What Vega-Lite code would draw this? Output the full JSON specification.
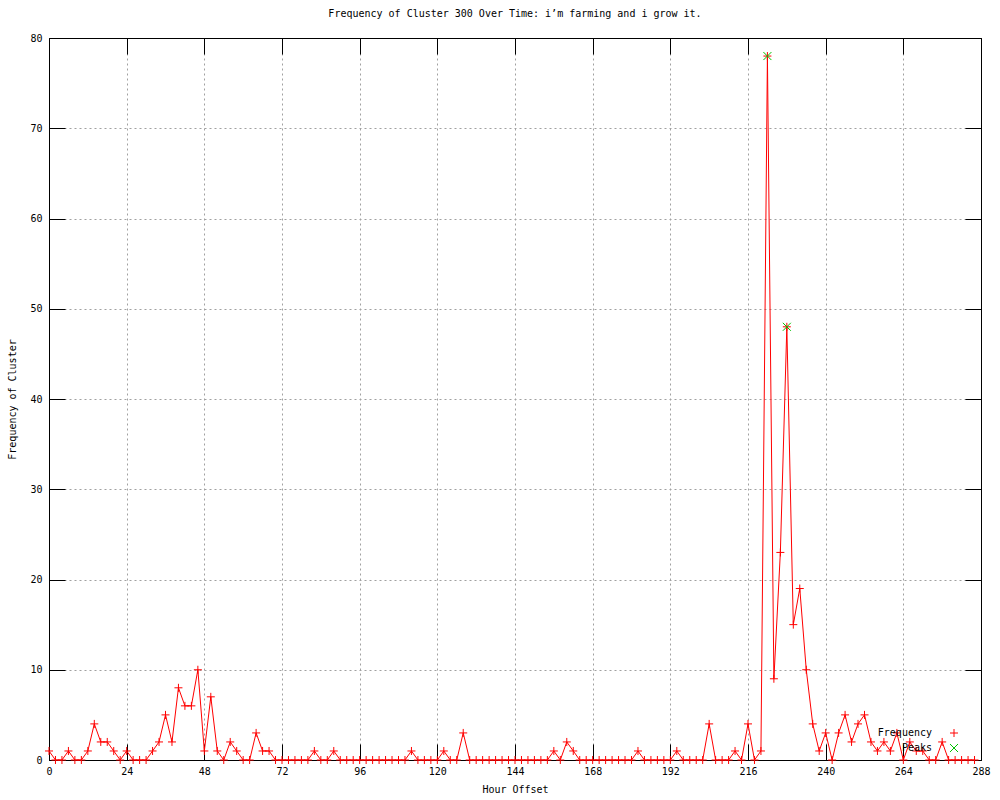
{
  "$schema": "https://vega.github.io/schema/vega-lite/v6.json",
  "width": 932,
  "height": 722,
  "autosize": {"type": "none"},
  "padding": {"left": 49, "top": 38, "right": 19, "bottom": 40},
  "background": "white",
  "config": {
    "font": "DejaVu Sans Mono",
    "view": {"stroke": "black", "strokeWidth": 1},
    "axis": {
      "labelFont": "DejaVu Sans Mono",
      "titleFont": "DejaVu Sans Mono",
      "labelFontSize": 10,
      "titleFontSize": 10,
      "titleFontWeight": "normal",
      "labelColor": "black",
      "titleColor": "black",
      "domainColor": "black",
      "tickColor": "black",
      "gridColor": "#a0a0a0",
      "gridDash": [2, 3],
      "gridOpacity": 1
    },
    "legend": {"labelFont": "DejaVu Sans Mono", "labelFontSize": 10, "labelColor": "black"}
  },
  "title": {
    "text": "Frequency of Cluster 300 Over Time: i’m farming and i grow it.",
    "font": "DejaVu Sans Mono",
    "fontSize": 10,
    "fontWeight": "normal",
    "color": "black",
    "anchor": "middle",
    "offset": 14
  },
  "datasets": {
    "freq": [
      {"hour": 0, "value": 1}, {"hour": 2, "value": 0}, {"hour": 4, "value": 0}, {"hour": 6, "value": 1},
      {"hour": 8, "value": 0}, {"hour": 10, "value": 0}, {"hour": 12, "value": 1}, {"hour": 14, "value": 4},
      {"hour": 16, "value": 2}, {"hour": 18, "value": 2}, {"hour": 20, "value": 1}, {"hour": 22, "value": 0},
      {"hour": 24, "value": 1}, {"hour": 26, "value": 0}, {"hour": 28, "value": 0}, {"hour": 30, "value": 0},
      {"hour": 32, "value": 1}, {"hour": 34, "value": 2}, {"hour": 36, "value": 5}, {"hour": 38, "value": 2},
      {"hour": 40, "value": 8}, {"hour": 42, "value": 6}, {"hour": 44, "value": 6}, {"hour": 46, "value": 10},
      {"hour": 48, "value": 1}, {"hour": 50, "value": 7}, {"hour": 52, "value": 1}, {"hour": 54, "value": 0},
      {"hour": 56, "value": 2}, {"hour": 58, "value": 1}, {"hour": 60, "value": 0}, {"hour": 62, "value": 0},
      {"hour": 64, "value": 3}, {"hour": 66, "value": 1}, {"hour": 68, "value": 1}, {"hour": 70, "value": 0},
      {"hour": 72, "value": 0}, {"hour": 74, "value": 0}, {"hour": 76, "value": 0}, {"hour": 78, "value": 0},
      {"hour": 80, "value": 0}, {"hour": 82, "value": 1}, {"hour": 84, "value": 0}, {"hour": 86, "value": 0},
      {"hour": 88, "value": 1}, {"hour": 90, "value": 0}, {"hour": 92, "value": 0}, {"hour": 94, "value": 0},
      {"hour": 96, "value": 0}, {"hour": 98, "value": 0}, {"hour": 100, "value": 0}, {"hour": 102, "value": 0},
      {"hour": 104, "value": 0}, {"hour": 106, "value": 0}, {"hour": 108, "value": 0}, {"hour": 110, "value": 0},
      {"hour": 112, "value": 1}, {"hour": 114, "value": 0}, {"hour": 116, "value": 0}, {"hour": 118, "value": 0},
      {"hour": 120, "value": 0}, {"hour": 122, "value": 1}, {"hour": 124, "value": 0}, {"hour": 126, "value": 0},
      {"hour": 128, "value": 3}, {"hour": 130, "value": 0}, {"hour": 132, "value": 0}, {"hour": 134, "value": 0},
      {"hour": 136, "value": 0}, {"hour": 138, "value": 0}, {"hour": 140, "value": 0}, {"hour": 142, "value": 0},
      {"hour": 144, "value": 0}, {"hour": 146, "value": 0}, {"hour": 148, "value": 0}, {"hour": 150, "value": 0},
      {"hour": 152, "value": 0}, {"hour": 154, "value": 0}, {"hour": 156, "value": 1}, {"hour": 158, "value": 0},
      {"hour": 160, "value": 2}, {"hour": 162, "value": 1}, {"hour": 164, "value": 0}, {"hour": 166, "value": 0},
      {"hour": 168, "value": 0}, {"hour": 170, "value": 0}, {"hour": 172, "value": 0}, {"hour": 174, "value": 0},
      {"hour": 176, "value": 0}, {"hour": 178, "value": 0}, {"hour": 180, "value": 0}, {"hour": 182, "value": 1},
      {"hour": 184, "value": 0}, {"hour": 186, "value": 0}, {"hour": 188, "value": 0}, {"hour": 190, "value": 0},
      {"hour": 192, "value": 0}, {"hour": 194, "value": 1}, {"hour": 196, "value": 0}, {"hour": 198, "value": 0},
      {"hour": 200, "value": 0}, {"hour": 202, "value": 0}, {"hour": 204, "value": 4}, {"hour": 206, "value": 0},
      {"hour": 208, "value": 0}, {"hour": 210, "value": 0}, {"hour": 212, "value": 1}, {"hour": 214, "value": 0},
      {"hour": 216, "value": 4}, {"hour": 218, "value": 0}, {"hour": 220, "value": 1}, {"hour": 222, "value": 78},
      {"hour": 224, "value": 9}, {"hour": 226, "value": 23}, {"hour": 228, "value": 48}, {"hour": 230, "value": 15},
      {"hour": 232, "value": 19}, {"hour": 234, "value": 10}, {"hour": 236, "value": 4}, {"hour": 238, "value": 1},
      {"hour": 240, "value": 3}, {"hour": 242, "value": 0}, {"hour": 244, "value": 3}, {"hour": 246, "value": 5},
      {"hour": 248, "value": 2}, {"hour": 250, "value": 4}, {"hour": 252, "value": 5}, {"hour": 254, "value": 2},
      {"hour": 256, "value": 1}, {"hour": 258, "value": 2}, {"hour": 260, "value": 1}, {"hour": 262, "value": 3},
      {"hour": 264, "value": 0}, {"hour": 266, "value": 2}, {"hour": 268, "value": 1}, {"hour": 270, "value": 1},
      {"hour": 272, "value": 0}, {"hour": 274, "value": 0}, {"hour": 276, "value": 2}, {"hour": 278, "value": 0},
      {"hour": 280, "value": 0}, {"hour": 282, "value": 0}, {"hour": 284, "value": 0}, {"hour": 286, "value": 0}
    ],
    "peaks": [
      {"hour": 222, "value": 78},
      {"hour": 228, "value": 48}
    ]
  },
  "resolve": {"axis": {"x": "independent", "y": "independent"}},
  "layer": [
    {
      "data": {"name": "freq"},
      "mark": {"type": "line", "strokeWidth": 1, "color": "#ff0000"},
      "encoding": {
        "x": {
          "field": "hour", "type": "quantitative",
          "scale": {"domain": [0, 288], "nice": false, "zero": false},
          "axis": {
            "title": "Hour Offset", "values": [0, 24, 48, 72, 96, 120, 144, 168, 192, 216, 240, 264, 288],
            "grid": true, "tickSize": -16, "labelPadding": 22, "titlePadding": 8,
            "labelFlush": false, "domain": true, "labelBaseline": "top"
          }
        },
        "y": {
          "field": "value", "type": "quantitative",
          "scale": {"domain": [0, 80], "nice": false},
          "axis": {
            "title": "Frequency of Cluster", "values": [0, 10, 20, 30, 40, 50, 60, 70, 80],
            "grid": true, "tickSize": -16, "labelPadding": 23, "titlePadding": 12,
            "labelFlush": false, "domain": true
          }
        }
      }
    },
    {
      "data": {"name": "freq"},
      "mark": {"type": "point", "filled": false, "strokeWidth": 1, "size": 64, "opacity": 1, "clip": false},
      "encoding": {
        "x": {
          "field": "hour", "type": "quantitative",
          "axis": {"orient": "top", "title": null, "labels": false, "grid": false, "tickSize": -16, "values": [0, 24, 48, 72, 96, 120, 144, 168, 192, 216, 240, 264, 288]}
        },
        "y": {
          "field": "value", "type": "quantitative",
          "axis": {"orient": "right", "title": null, "labels": false, "grid": false, "tickSize": -16, "values": [0, 10, 20, 30, 40, 50, 60, 70, 80]}
        },
        "color": {"datum": "Frequency", "type": "nominal",
          "scale": {"domain": ["Frequency", "Peaks"], "range": ["#ff0000", "#00c000"]},
          "legend": {"title": null, "orient": "none", "legendX": 900, "legendY": 690, "symbolStrokeWidth": 1, "symbolSize": 64, "rowPadding": 3, "labelOffset": -27, "labelAlign": "right"}},
        "shape": {"datum": "Frequency", "type": "nominal",
          "scale": {"domain": ["Frequency", "Peaks"], "range": ["M-1,0L1,0M0,-1L0,1", "M-1,-1L1,1M-1,1L1,-1"]},
          "legend": {"title": null, "orient": "none", "legendX": 900, "legendY": 690, "symbolStrokeWidth": 1, "symbolSize": 64, "rowPadding": 3, "labelOffset": -27, "labelAlign": "right"}}
      }
    },
    {
      "data": {"name": "peaks"},
      "mark": {"type": "point", "filled": false, "strokeWidth": 1, "size": 64, "opacity": 1},
      "encoding": {
        "x": {"field": "hour", "type": "quantitative", "axis": null},
        "y": {"field": "value", "type": "quantitative", "axis": null},
        "color": {"datum": "Peaks", "type": "nominal"},
        "shape": {"datum": "Peaks", "type": "nominal"}
      }
    }
  ]
}
